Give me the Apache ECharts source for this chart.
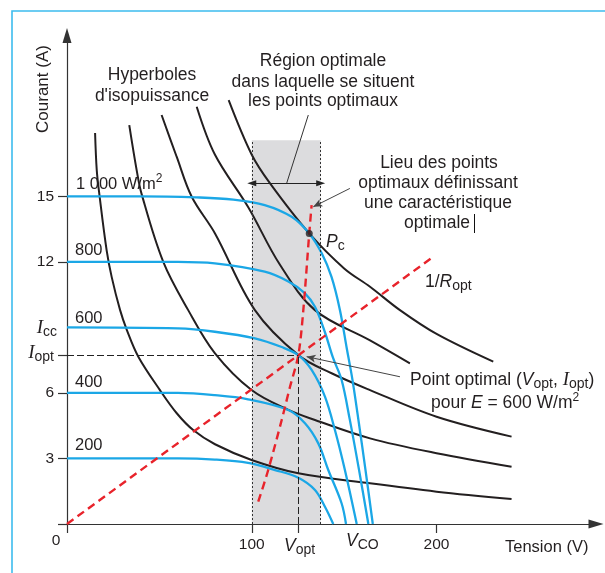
<!DOCTYPE html>
<html>
<head>
<meta charset="utf-8">
<script src="https://cdn.jsdelivr.net/npm/echarts@6/dist/echarts.min.js"></script>
<style>
  html, body { margin: 0; padding: 0; background: #fff; }
  #chart { width: 605px; height: 573px; }
</style>
</head>
<body>
<div id="chart"></div>
<script>
// I-V characteristics of a PV field for several irradiance levels [V, A]
const curve1000 = [[0,15],[40,15],[70,14.95],[90,14.85],[107,14.6],[121.6,14.06],[131.1,13.3],[137.8,12.4],[143.2,11.3],[147.7,9.8],[151.5,8.0],[154.5,6.6],[158,4.6],[161.5,2.5],[165.5,0]];
const curve800  = [[0,12],[60,12],[80,11.93],[107,11.55],[119.8,11.1],[128.8,10.56],[134.2,9.94],[139.5,8.8],[144,7.6],[148.6,6.6],[153,4.8],[158,2.5],[163.1,0]];
const curve600  = [[0,9],[60,8.95],[80,8.8],[101.7,8.5],[116.2,8.1],[125.2,7.73],[132.4,7.05],[139.6,5.83],[145,4.3],[150.4,2.47],[156.8,0]];
const curve400  = [[0,6],[60,6],[80,5.9],[98,5.71],[119.8,5.22],[128.8,4.61],[136,3.69],[141.4,2.47],[148.6,0.95],[151,0]];
const curve200  = [[0,3],[60,3],[80,2.95],[98,2.8],[112.6,2.47],[125.2,2.12],[134.2,1.56],[139.6,0.79],[144.1,0]];

// constant-power hyperbolas [V, A]
const hyp1 = [[15.2,17.9],[16.1,16.2],[17.5,15.1],[21.5,12.5],[24.2,11.3],[28.7,9.8],[32.3,8.9],[38.6,7.66],[50.3,6.13],[59.4,5.07],[68.3,4.3],[80.1,3.65],[99.9,2.93],[125.2,2.32],[164,1.86],[200,1.48],[240.6,1.14]];
const hyp2 = [[33.7,18.26],[37.7,16.2],[40.4,15.1],[52.1,12.0],[65.6,9.79],[80.1,7.81],[99.9,6.13],[119.8,5.22],[134.2,4.76],[164,3.92],[200,3.24],[240.6,2.62]];
const hyp3 = [[51.2,18.72],[59.4,16.8],[67.5,14.98],[80.1,13.3],[101.7,9.79],[125.2,7.73],[143.2,6.9],[164,6.13],[200,4.91],[240.6,4.0]];
const hyp4 = [[70.2,19.1],[80.1,16.9],[98.1,14.5],[115,11.9],[134.2,9.79],[164,8.4],[185.6,7.35]];
const hyp5 = [[87.5,19.4],[100,16.9],[109.8,15.6],[131.1,13.3],[150,11.7],[164,10.86],[180.2,9.79],[200,8.7],[230.7,7.43]];

// locus of maximum power points and the 1/Ropt load line
const optLocus = [[103.5,1.02],[108.9,2.47],[116.2,4.76],[120.7,6.28],[125.2,7.73],[127.9,9.79],[131.1,13.3],[132.4,14.6]];
const loadLine = [[0,0],[197.7,12.2]];

// key points
const optPoint = [125.2, 7.73];   // (Vopt, Iopt) for E = 600 W/m2
const pcPoint = [131.1, 13.3];    // Pc
const regionV = [100, 137.3];     // optimal region bounds (V)
const regionTop = 17.57;
const arrowI = 15.6;

// axis ticks
const xTickLabels = [100, 200];
const yTickLabels = [3, 6, 12, 15];

const INK = '#231f20';
const BLUE = '#1ba7e6';
const RED = '#e8232b';
const FONT = '"Liberation Sans", Arial, sans-serif';
const SERIF = '"Liberation Serif", "Times New Roman", serif';
const TXT = 17.5;

const chart = echarts.init(document.getElementById('chart'), null, { renderer: 'canvas' });

function curve(data, color, width, extra) {
  return Object.assign({
    type: 'line', data: data, showSymbol: false, smooth: 0.35, silent: true,
    lineStyle: { color: color, width: width }
  }, extra || {});
}

function txt(x, y, text, o) {
  o = o || {};
  return {
    type: 'text', x: x, y: y, rotation: o.rotation || 0, silent: true, z: 100,
    style: {
      text: text, fill: INK, font: (o.italic ? 'italic ' : '') + (o.size || TXT) + 'px ' + FONT,
      align: o.align || 'center', verticalAlign: o.valign || 'middle',
      rich: o.rich
    }
  };
}

const rich = {
  n: { fontSize: TXT, lineHeight: 22, fontFamily: FONT, color: INK },
  i: { fontSize: TXT, lineHeight: 22, fontFamily: FONT, fontStyle: 'italic', color: INK },
  I: { fontSize: 19, lineHeight: 22, fontFamily: SERIF, fontStyle: 'italic', color: INK },
  s: { fontSize: 14, lineHeight: 10, fontFamily: FONT, color: INK, verticalAlign: 'bottom' },
  p: { fontSize: 12, lineHeight: 14, fontFamily: FONT, color: INK, verticalAlign: 'top' },
  q: { fontSize: 16.5, lineHeight: 22, fontFamily: FONT, color: INK }
};

const option = {
  animation: false,
  backgroundColor: '#fff',
  textStyle: { fontFamily: FONT },
  grid: { left: 67, right: 9, top: 35.5, bottom: 49, containLabel: false },
  xAxis: {
    type: 'value', min: 0, max: 286.3,
    axisLine: { lineStyle: { color: '#333', width: 1.2 }, symbol: ['none', 'triangle'], symbolSize: [9, 15] },
    axisTick: { show: true, length: 9, lineStyle: { color: '#333', width: 1.2 }, customValues: [0, 100, optPoint[0], 200] },
    axisLabel: { customValues: xTickLabels, color: INK, fontSize: 15.5, margin: 13, fontFamily: FONT },
    splitLine: { show: false }
  },
  yAxis: {
    type: 'value', min: 0, max: 22.36,
    axisLine: { lineStyle: { color: '#333', width: 1.2 }, symbol: ['none', 'triangle'], symbolSize: [9, 15] },
    axisTick: { show: true, length: 9, lineStyle: { color: '#333', width: 1.2 }, customValues: [0, 3, 6, optPoint[1], 12, 15] },
    axisLabel: { customValues: yTickLabels, color: INK, fontSize: 15.5, margin: 13, fontFamily: FONT },
    splitLine: { show: false }
  },
  series: [
    // optimal region
    {
      type: 'line', data: [], silent: true,
      markArea: {
        silent: true, itemStyle: { color: '#dcdcde' },
        data: [[{ coord: [regionV[0], 0] }, { coord: [regionV[1], regionTop] }]]
      },
      markLine: {
        silent: true, symbol: ['none', 'none'], label: { show: false },
        lineStyle: { color: '#333', width: 1, type: [2, 2] },
        data: [
          [{ coord: [regionV[0], 0] }, { coord: [regionV[0], regionTop] }],
          [{ coord: [regionV[1], 0] }, { coord: [regionV[1], regionTop] }]
        ]
      }
    },
    // Vopt / Iopt guides
    {
      type: 'line', data: [], silent: true,
      markLine: {
        silent: true, symbol: ['none', 'none'], label: { show: false },
        lineStyle: { color: '#222', width: 1, type: [7, 3] },
        data: [
          [{ coord: [0, optPoint[1]] }, { coord: optPoint }],
          [{ coord: [optPoint[0], 0] }, { coord: optPoint }]
        ]
      }
    },
    // region width arrow
    {
      type: 'line', data: [], silent: true,
      markLine: {
        silent: true, symbol: ['triangle', 'triangle'], symbolSize: [6, 9], label: { show: false },
        lineStyle: { color: '#222', width: 1.1, type: 'solid' },
        data: [[{ coord: [regionV[0], arrowI] }, { coord: [regionV[1], arrowI] }]]
      }
    },
    curve(hyp1, INK, 2),
    curve(hyp2, INK, 2),
    curve(hyp3, INK, 2),
    curve(hyp4, INK, 2),
    curve(hyp5, INK, 2),
    curve(curve200, BLUE, 2.3),
    curve(curve400, BLUE, 2.3),
    curve(curve600, BLUE, 2.3),
    curve(curve800, BLUE, 2.3),
    curve(curve1000, BLUE, 2.3),
    curve(loadLine, RED, 2.4, { smooth: false, lineStyle: { color: RED, width: 2.4, type: [8, 5] } }),
    curve(optLocus, RED, 2.4, { smooth: 0.3, lineStyle: { color: RED, width: 2.4, type: [8, 5] } }),
    // leader lines
    {
      type: 'line', data: [], silent: true,
      markLine: {
        silent: true, symbol: ['none', 'none'], label: { show: false },
        lineStyle: { color: '#333', width: 1, type: 'solid' },
        data: [[{ coord: [130.6, 18.72] }, { coord: [118.9, arrowI] }]]
      }
    },
    {
      type: 'line', data: [], silent: true,
      markLine: {
        silent: true, symbol: ['none', 'arrow'], symbolSize: [6, 9], label: { show: false },
        lineStyle: { color: '#444', width: 1, type: 'solid' },
        data: [
          [{ coord: [153.1, 15.36] }, { coord: [133.3, 14.52] }],
          [{ coord: [180.2, 6.74] }, { coord: [129.7, 7.66] }]
        ]
      }
    },
    {
      type: 'scatter', data: [pcPoint], symbolSize: 7, silent: true,
      itemStyle: { color: INK }, z: 10
    }
  ],
  graphic: [
    { type: 'polyline', silent: true, shape: { points: [[12, 573], [12, 11], [605, 11]] }, style: { stroke: '#3dbcee', lineWidth: 1.6, fill: null } },
    txt(43, 89, 'Courant (A)', { rotation: Math.PI / 2, size: 17 }),
    txt(152, 75, 'Hyperboles'),
    txt(152, 96, "d'isopuissance"),
    txt(323, 61, 'Région optimale'),
    txt(323, 82, 'dans laquelle se situent'),
    txt(323, 101, 'les points optimaux'),
    txt(439, 163, 'Lieu des points'),
    txt(438, 183, 'optimaux définissant'),
    txt(438, 203, 'une caractéristique'),
    txt(437, 223, 'optimale'),
    { type: 'line', silent: true, shape: { x1: 474.5, y1: 214, x2: 474.5, y2: 233 }, style: { stroke: '#111', lineWidth: 1 } },
    txt(76, 184, '{q|1 000 W/m}{p|2}', { align: 'left', rich: rich }),
    txt(75, 250, '800', { align: 'left', size: 16.5 }),
    txt(75, 318, '600', { align: 'left', size: 16.5 }),
    txt(75, 382, '400', { align: 'left', size: 16.5 }),
    txt(75, 445, '200', { align: 'left', size: 16.5 }),
    txt(57, 328, '{I|I}{s|cc}', { align: 'right', rich: rich }),
    txt(54, 353, '{I|I}{s|opt}', { align: 'right', rich: rich }),
    txt(56, 541, '0', { size: 15.5 }),
    txt(284, 546, '{i|V}{s|opt}', { align: 'left', rich: rich }),
    txt(346, 541, '{i|V}{s|CO}', { align: 'left', rich: rich }),
    txt(505, 547, 'Tension (V)', { align: 'left', size: 16.5 }),
    txt(326, 242, '{i|P}{s|c}', { align: 'left', rich: rich }),
    txt(425, 282, '{n|1/}{i|R}{s|opt}', { align: 'left', rich: rich }),
    txt(410, 380, '{n|Point optimal (}{i|V}{s|opt}{n|, }{I|I}{s|opt}{n|)}', { align: 'left', rich: rich }),
    txt(431, 403, '{n|pour }{i|E}{n| = 600 W/m}{p|2}', { align: 'left', rich: rich })
  ]
};

chart.setOption(option);
</script>
</body>
</html>
